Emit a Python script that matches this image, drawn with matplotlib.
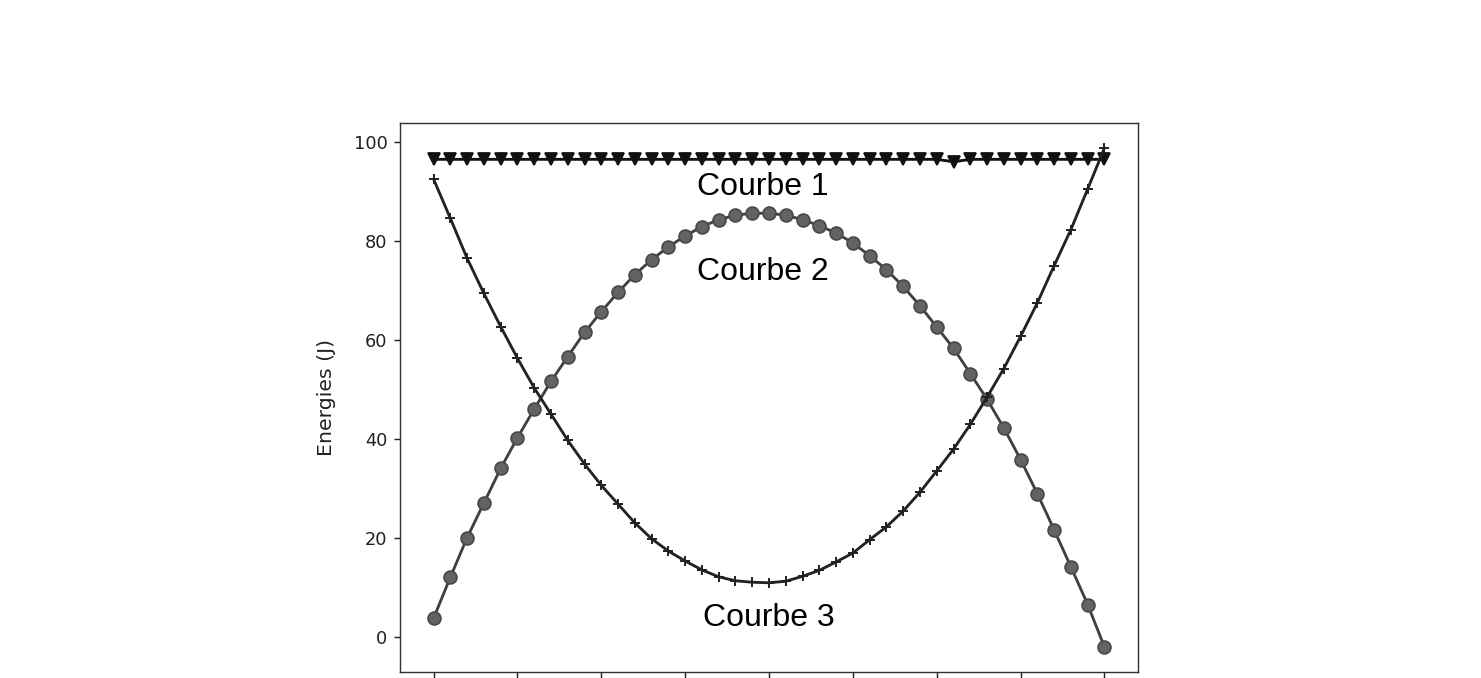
import numpy as np
import matplotlib
matplotlib.use("Agg")
import matplotlib.pyplot as plt

# time axis (41 samples)
t = [round(0.02 * i, 2) for i in range(41)]
xticks = [0.0, 0.1, 0.2, 0.3, 0.4, 0.5, 0.6, 0.7, 0.8]

courbe1 = [96.5] * 41
courbe1[31] = 96.0

courbe2 = [3.7, 12.0, 20.0, 27.0, 34.0, 40.2, 46.0, 51.6, 56.6, 61.5,
           65.7, 69.6, 73.2, 76.2, 78.8, 81.0, 82.9, 84.3, 85.2, 85.6,
           85.6, 85.2, 84.3, 83.1, 81.6, 79.6, 77.0, 74.2, 70.8, 66.9,
           62.6, 58.3, 53.2, 48.0, 42.2, 35.8, 28.9, 21.6, 14.1, 6.5, -2.1]

courbe3 = [92.5, 84.6, 76.5, 69.4, 62.7, 56.3, 50.3, 45.0, 39.7, 34.9,
           30.6, 26.8, 23.0, 19.8, 17.3, 15.3, 13.5, 12.1, 11.3, 11.0,
           10.9, 11.2, 12.2, 13.4, 15.1, 16.9, 19.6, 22.2, 25.4, 29.2,
           33.5, 37.9, 42.9, 48.4, 54.2, 60.7, 67.5, 75.0, 82.3, 90.5, 98.8]

labels = ["Courbe 1", "Courbe 2", "Courbe 3"]
label_pos = [(0.3143, 89.3), (0.3143, 72.2), (0.3214, 2.2)]

DPI = 128
fig = plt.figure(figsize=(1481 / DPI, 678 / DPI), dpi=DPI)
ax = fig.add_axes([400 / 1481, 6 / 678, 738 / 1481, 549 / 678])

ax.plot(t, courbe1, color="#111111", marker="v", markersize=6.5,
        markerfacecolor="#111111", markeredgecolor="#111111", linewidth=1.6)
ax.plot(t, courbe2, color="#404040", marker="o", markersize=7.2,
        markerfacecolor="#636363", markeredgecolor="#4a4a4a", linewidth=1.6)
ax.plot(t, courbe3, color="#222222", marker="+", markersize=6,
        markeredgewidth=1.1, linewidth=1.6)

for lab, (lx, ly) in zip(labels, label_pos):
    ax.text(lx, ly, lab, fontsize=18, family=["Liberation Sans", "DejaVu Sans"],
            ha="left", va="baseline", color="black")

ax.set_xticks(xticks)
ax.set_yticks([0, 20, 40, 60, 80, 100])
ax.tick_params(axis="x", labelbottom=False)
ax.set_ylabel("Energies (J)", color="#222222", fontsize=11.5, labelpad=10)
ax.tick_params(colors="#222222")
for s in ax.spines.values():
    s.set_color("#333333")

fig.savefig("out.png", dpi=DPI)
